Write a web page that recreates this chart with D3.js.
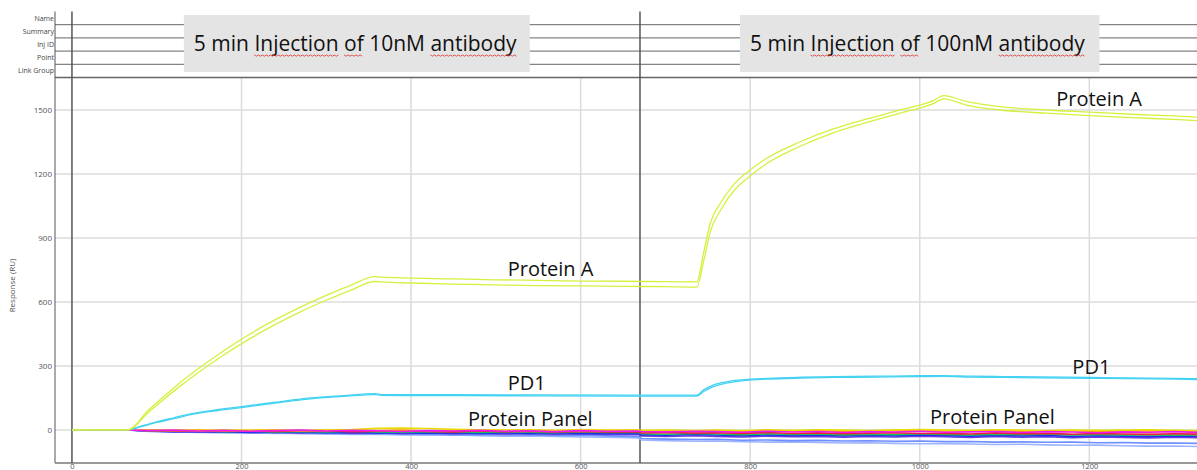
<!DOCTYPE html>
<html>
<head>
<meta charset="utf-8">
<script src="https://cdn.jsdelivr.net/npm/d3@7"></script>
<style>
  html, body { margin: 0; padding: 0; background: #fff; }
  svg { display: block; }
</style>
</head>
<body>
<div id="chart"></div>
<script>
// ---- data ----
const xTicks = [0, 200, 400, 600, 800, 1000, 1200];
const yTicks = [0, 300, 600, 900, 1200, 1500];
const headerRows = ['Name', 'Summary', 'Inj ID', 'Point', 'Link Group'];
const cycleBreak = 670; // cycle divider (s)

// Protein A (two replicate traces)
const paTime  = [0, 66, 90, 120, 150, 180, 210, 240, 270, 300, 330, 357, 365, 400, 450, 500, 550, 600, 650, 700, 737, 745, 753, 765, 780, 800, 820, 859, 898, 938, 977, 1016, 1028, 1056, 1095, 1150, 1200, 1250, 1300, 1330];
const paUpper = [0, 0, 92, 197, 290, 374, 450, 517, 577, 631, 680, 719, 716, 712, 708, 704, 701, 698, 697, 695, 694, 830, 970, 1064, 1148, 1219, 1275, 1351, 1411, 1458, 1500, 1544, 1567, 1539, 1516, 1500, 1490, 1480, 1472, 1466];
const paLower = [0, 0, 82, 182, 272, 354, 428, 495, 555, 608, 657, 696, 694, 689, 684, 680, 677, 675, 673, 672, 670, 790, 930, 1030, 1118, 1190, 1250, 1330, 1393, 1442, 1485, 1530, 1552, 1522, 1500, 1485, 1474, 1464, 1456, 1450];

// PD1 (two replicate traces)
const pd1Time  = [0, 66, 80, 100, 120, 143, 170, 200, 240, 281, 320, 357, 365, 450, 550, 650, 737, 745, 755, 770, 790, 820, 860, 900, 950, 1000, 1028, 1060, 1100, 1200, 1300, 1330];
const pd1Upper = [0, 0, 16, 38, 57, 78, 94, 109, 130, 150, 161, 170, 166, 165, 164, 163, 163, 188, 208, 224, 235, 242, 247, 250, 252, 254, 255, 252, 250, 246, 242, 240];
const pd1Lower = [0, 0, 14, 35, 53, 74, 90, 105, 126, 146, 157, 166, 162, 161, 160, 159, 159, 180, 201, 218, 230, 238, 243, 246, 248, 250, 251, 248, 246, 242, 238, 236];

// Protein panel (non-binders, noisy around baseline)
const panelTime = [0, 30, 66, 90, 120, 150, 180, 210, 240, 270, 300, 330, 360, 390, 420, 450, 480, 510, 540, 570, 600, 630, 668, 672, 700, 737, 760, 790, 820, 850, 880, 910, 940, 970, 1000, 1030, 1060, 1090, 1120, 1150, 1180, 1210, 1240, 1270, 1300, 1330];
const panelLightBlue2 = [0, 0, 0, -7, -10, -12, -14, -13, -17, -16, -19, -21, -20, -23, -25, -24, -27, -29, -28, -31, -33, -34, -37, -47, -50, -53, -52, -55, -57, -56, -59, -61, -60, -63, -65, -64, -66, -68, -67, -70, -72, -71, -74, -76, -75, -78];
const panelLightBlue1 = [0, -1, 0, -6, -9, -11, -10, -14, -13, -16, -15, -18, -17, -20, -19, -22, -21, -24, -23, -26, -25, -28, -30, -40, -43, -45, -44, -48, -47, -50, -49, -52, -51, -53, -52, -55, -54, -57, -56, -58, -57, -60, -59, -62, -61, -63];
const panelViolet = [0, 0, 0, -4, -7, -10, -8, -12, -10, -14, -11, -15, -13, -16, -14, -18, -15, -19, -17, -20, -18, -21, -20, -28, -31, -27, -30, -33, -29, -32, -30, -34, -31, -33, -29, -32, -35, -31, -34, -32, -36, -33, -35, -37, -34, -36];
const panelBlue = [0, -1, 0, -5, -8, -6, -10, -8, -12, -9, -13, -11, -14, -12, -15, -13, -16, -14, -17, -15, -18, -16, -17, -22, -25, -21, -24, -27, -23, -26, -24, -28, -25, -27, -23, -26, -29, -25, -28, -26, -30, -27, -29, -31, -28, -30];
const panelGreen = [0, 0, 0, -3, -6, -4, -8, -5, -9, -7, -10, -6, -9, -11, -8, -10, -12, -9, -11, -13, -10, -12, -11, -18, -20, -17, -19, -22, -18, -21, -19, -23, -20, -22, -18, -21, -24, -20, -22, -19, -23, -21, -24, -22, -25, -23];
const panelRed = [0, -1, 0, -2, -5, -3, -6, -4, -7, -5, -3, -8, -6, -4, -7, -9, -5, -8, -6, -10, -7, -9, -8, -14, -12, -15, -13, -16, -12, -17, -14, -18, -15, -13, -17, -16, -19, -14, -18, -16, -20, -17, -19, -21, -18, -20];
const panelOrange = [0, -1, 0, -1, -3, 0, -4, -2, -1, -4, -2, 0, -3, -1, -4, -2, 0, -3, -1, -4, -2, -3, -2, -4, -3, -5, -3, -6, -2, -5, -3, -7, -4, -2, -6, -3, -5, -2, -6, -4, -3, -7, -5, -3, -6, -4];
const panelYellow = [0, 1, 0, -2, 0, -3, -1, -2, 0, -3, -1, 2, 8, 9, 7, 3, 1, -1, 0, -2, 1, -1, 0, -2, -1, -3, -1, -3, 0, -2, 1, -1, -3, 0, 2, -1, -2, 1, -1, -3, 0, -2, -1, 1, -2, -3];
const panelMagenta = [1, 0, 0, -3, -1, -5, -2, -6, -3, -1, -5, -2, -4, -7, -3, -5, -2, -6, -4, -8, -3, -6, -5, -7, -9, -6, -8, -11, -6, -10, -7, -12, -8, -10, -6, -11, -9, -7, -12, -8, -10, -13, -9, -11, -8, -12];

const panelSeries = [
  { values: panelLightBlue2, color: '#9db4ff' },
  { values: panelLightBlue1, color: '#6f8eff' },
  { values: panelViolet, color: '#6a3ae0' },
  { values: panelBlue, color: '#1a30f0' },
  { values: panelGreen, color: '#22c05a' },
  { values: panelRed, color: '#e8203a' },
  { values: panelOrange, color: '#ff9a00' },
  { values: panelYellow, color: '#e8dc00' },
  { values: panelMagenta, color: '#ee18ee' }
];

const bindSeries = [
  { time: pd1Time, values: pd1Lower, color: '#44d2f2' },
  { time: pd1Time, values: pd1Upper, color: '#44d2f2' },
  { time: paTime, values: paLower, color: '#d6f03e' },
  { time: paTime, values: paUpper, color: '#d6f03e' }
];

// annotation text, anchored in data coordinates (left, baseline)
const annotations = [
  { text: 'Protein A', x: 514, y: 722 },
  { text: 'Protein A', x: 1161, y: 1519 },
  { text: 'PD1', x: 514, y: 187 },
  { text: 'PD1', x: 1180, y: 262 },
  { text: 'Protein Panel', x: 467, y: 19 },
  { text: 'Protein Panel', x: 1012, y: 28 }
];

const injectionBoxes = [
  { text: '5 min Injection of 10nM antibody', x0: 132, x1: 540 },
  { text: '5 min Injection of 100nM antibody', x0: 788, x1: 1212 }
];
const squiggleWords = ['Injection', 'of', 'antibody'];

// ---- layout ----
const W = 1197, H = 470;
const plotL = 55, plotR = 1197, plotT = 78, plotB = 463;
const headerTop = 11.5, rowH = 13.2;

const x = d3.scaleLinear().domain([-20, 1327]).range([plotL, plotR]);
const y = d3.scaleLinear().domain([-155, 1650]).range([plotB, plotT]);

const svg = d3.select('#chart').append('svg')
  .attr('width', W)
  .attr('height', H)
  .style('font-family', "'Open Sans', 'Liberation Sans', sans-serif");

svg.append('defs').append('clipPath').attr('id', 'plot-clip')
  .append('rect')
  .attr('x', plotL).attr('y', plotT)
  .attr('width', plotR - plotL).attr('height', plotB - plotT);

// grid
const grid = svg.append('g').attr('class', 'grid');
grid.selectAll('line.h')
  .data(yTicks)
  .enter().append('line')
  .attr('class', 'h')
  .attr('x1', plotL).attr('x2', plotR)
  .attr('y1', d => y(d)).attr('y2', d => y(d))
  .attr('stroke', '#dcdcdc').attr('stroke-width', 1.5);
grid.selectAll('line.v')
  .data(xTicks.filter(d => d !== 0))
  .enter().append('line')
  .attr('class', 'v')
  .attr('x1', d => x(d)).attr('x2', d => x(d))
  .attr('y1', plotT).attr('y2', plotB)
  .attr('stroke', '#dcdcdc').attr('stroke-width', 1.5);

// axes (labels only, the grid draws the rules)
const yAxis = svg.append('g')
  .attr('transform', `translate(${plotL},0)`)
  .call(d3.axisLeft(y).tickValues(yTicks).tickFormat(d3.format('d')).tickSize(0).tickPadding(3));
yAxis.select('.domain').remove();
yAxis.selectAll('text').attr('font-size', 8).attr('fill', '#555')
  .style('font-family', "'Open Sans', sans-serif");

const xAxis = svg.append('g')
  .attr('transform', `translate(0,${plotB})`)
  .call(d3.axisBottom(x).tickValues(xTicks).tickFormat(d3.format('d')).tickSize(0).tickPadding(0));
xAxis.select('.domain').remove();
xAxis.selectAll('text')
  .attr('dy', null)
  .attr('y', 6)
  .attr('font-size', 7.5).attr('fill', '#555')
  .style('font-family', "'Open Sans', sans-serif");

svg.append('text')
  .attr('transform', `translate(15,${(plotT + plotB) / 2 + 15}) rotate(-90)`)
  .attr('text-anchor', 'middle')
  .attr('font-size', 8)
  .attr('fill', '#555')
  .text('Response (RU)');

// header rows
const header = svg.append('g').attr('class', 'header');
header.selectAll('line.row')
  .data(headerRows)
  .enter().append('line')
  .attr('class', 'row')
  .attr('x1', plotL).attr('x2', plotR)
  .attr('y1', (d, i) => headerTop + (i + 1) * rowH)
  .attr('y2', (d, i) => headerTop + (i + 1) * rowH)
  .attr('stroke', '#666')
  .attr('stroke-width', (d, i) => i === headerRows.length - 1 ? 1.6 : 1);
header.selectAll('text.row')
  .data(headerRows)
  .enter().append('text')
  .attr('class', 'row')
  .attr('x', plotL - 1)
  .attr('y', (d, i) => headerTop + i * rowH + rowH / 2 + 2.5)
  .attr('text-anchor', 'end')
  .attr('font-size', 7)
  .attr('fill', '#444')
  .text(d => d);

// frame: left spine, bottom spine, zero line, cycle divider
svg.append('line')
  .attr('x1', plotL).attr('x2', plotL)
  .attr('y1', headerTop).attr('y2', plotB)
  .attr('stroke', '#555').attr('stroke-width', 1);
svg.append('line')
  .attr('x1', plotL).attr('x2', plotR)
  .attr('y1', plotB).attr('y2', plotB)
  .attr('stroke', '#777').attr('stroke-width', 1.5);
svg.append('line')
  .attr('x1', x(0)).attr('x2', x(0))
  .attr('y1', headerTop).attr('y2', plotB)
  .attr('stroke', '#555').attr('stroke-width', 1.5);
svg.append('line')
  .attr('x1', x(cycleBreak)).attr('x2', x(cycleBreak))
  .attr('y1', headerTop).attr('y2', plotB)
  .attr('stroke', '#555').attr('stroke-width', 1.5);

// traces
const plot = svg.append('g').attr('clip-path', 'url(#plot-clip)');

const panelLine = d3.line()
  .x((d, i) => x(panelTime[i]))
  .y(d => y(d));

plot.selectAll('path.panel')
  .data(panelSeries)
  .enter().append('path')
  .attr('class', 'panel')
  .attr('d', d => panelLine(d.values))
  .attr('fill', 'none')
  .attr('stroke', d => d.color)
  .attr('stroke-width', 1.6);

plot.selectAll('path.bind')
  .data(bindSeries)
  .enter().append('path')
  .attr('class', 'bind')
  .attr('d', s => d3.line()
    .x((d, i) => x(s.time[i]))
    .y(d => y(d))
    .curve(d3.curveMonotoneX)(s.values))
  .attr('fill', 'none')
  .attr('stroke', d => d.color)
  .attr('stroke-width', 1.3);

// annotations
svg.selectAll('text.note')
  .data(annotations)
  .enter().append('text')
  .attr('class', 'note')
  .attr('x', d => x(d.x))
  .attr('y', d => y(d.y))
  .attr('font-size', 20)
  .attr('fill', '#111')
  .text(d => d.text);

// injection boxes in the header
const boxes = svg.selectAll('g.inj')
  .data(injectionBoxes)
  .enter().append('g')
  .attr('class', 'inj');

boxes.append('rect')
  .attr('x', d => x(d.x0))
  .attr('y', 15)
  .attr('width', d => x(d.x1) - x(d.x0))
  .attr('height', 57)
  .attr('fill', '#e4e4e4');

boxes.append('text')
  .attr('x', d => x(d.x0) + 10)
  .attr('y', 51)
  .attr('font-size', 21)
  .attr('fill', '#111')
  .text(d => d.text);

// spell-check squiggles under the flagged words
boxes.each(function (d) {
  const t = d3.select(this).select('text').node();
  squiggleWords.forEach(w => {
    const idx = d.text.indexOf(w);
    if (idx < 0) return;
    const xa = t.getStartPositionOfChar(idx).x;
    const xb = t.getEndPositionOfChar(idx + w.length - 1).x;
    const pts = [];
    for (let px = xa, k = 0; px <= xb; px += 2, k++) pts.push([px, 55 + (k % 2 ? 1.2 : 0)]);
    d3.select(this).append('path')
      .attr('d', d3.line()(pts))
      .attr('fill', 'none')
      .attr('stroke', '#e03030')
      .attr('stroke-width', 0.8);
  });
});
</script>
</body>
</html>
